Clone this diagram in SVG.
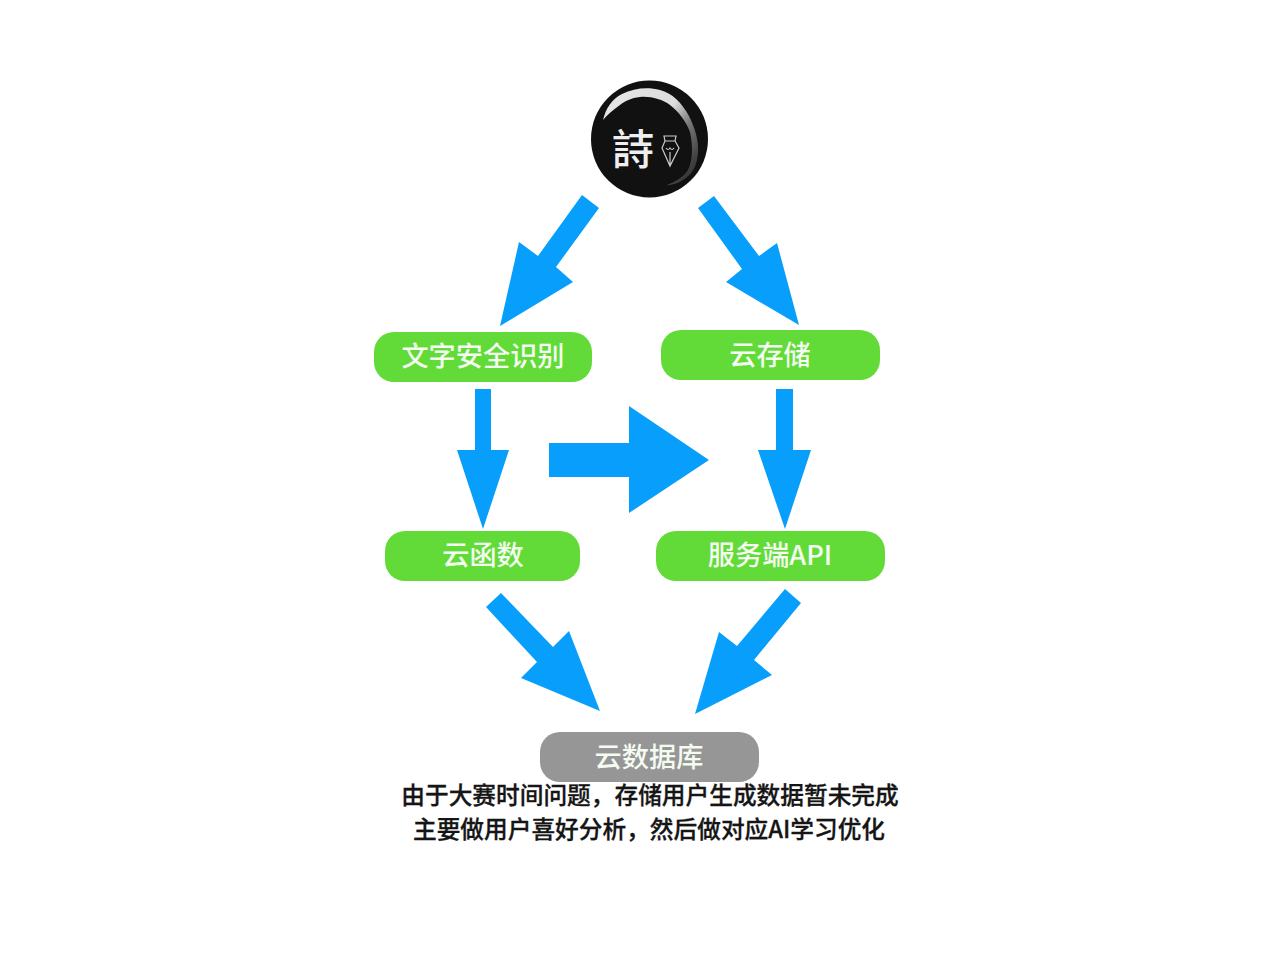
<svg xmlns="http://www.w3.org/2000/svg" width="1280" height="959" viewBox="0 0 1280 959">
<defs>
<linearGradient id="sw" gradientUnits="userSpaceOnUse" x1="610" y1="95" x2="695" y2="165"><stop offset="0" stop-color="#e6e6e6"/><stop offset=".5" stop-color="#dcdcdc"/><stop offset=".72" stop-color="#777"/><stop offset="1" stop-color="#3a3a3a"/></linearGradient>
</defs>
<style>
.g{fill:#62db38}.n{fill:#969696}.a{fill:#079ffb}
text{font-family:"Noto Sans CJK SC","Liberation Sans",sans-serif;text-anchor:middle}
.l{fill:#f4fbf0;font-size:27.2px;font-weight:500}
.c{fill:#151515;font-size:23.7px;font-weight:500;stroke:#151515;stroke-width:.3px}
</style>
<rect width="1280" height="959" fill="#fff"/>
<g id="connectors" class="a">
<polygon points="582,195 599,208 556,267 573,282 500,326 519,242 538,256"/>
<polygon points="714,196 698,208 742,269 726,282 799,325 777,243 759,256"/>
<polygon points="475,389 491,389 491,450 509,450 483,529 457,450 475,450"/>
<polygon points="776,389 793,389 793,450 811,450 785,529 758,450 776,450"/>
<polygon points="549,443 629,443 629,406 709,460 629,513 629,477 549,477"/>
<polygon points="501,593 486,607 537,662 521,678 600,711 569,631 553,647"/>
<polygon points="785,589 801,603 754,660 772,675 695,714 719,632 737,646"/>
</g>
<g id="logo">
<circle cx="649.5" cy="139" r="58.5" fill="#111"/>
<path d="M603,120C606,108 612,99 622,94C634,88 648,87 660,90C672,93 682,103 689,116C695,128 699,141 698,153C697,165 693,173 687,177C680,183 673,185 667,185C675,182 684,177 688,170C693,160 693,146 690,132C686,121 678,111 670,105C662,99 650,96 640,97C631,98 625,101 620,105C613,110 607,115 603,120Z" fill="url(#sw)"/>
<text x="633" y="165" fill="#eee" style="font-size:42px;font-family:'Noto Sans CJK TC','Noto Sans CJK SC',sans-serif;font-weight:500;stroke:none">詩</text>
<path d="M664,136H676L675,141L679,148L670,166L662,148L665,141ZM665,141H675M666,148Q668,151 670,148Q672,151 674,148M670,152V165" fill="none" stroke="#ccc" stroke-width="1.2"/>
</g>
<g id="n1"><rect class="g" x="374" y="332" width="218" height="50" rx="20"/><text class="l" x="483" y="366">文字安全识别</text></g>
<g id="n2"><rect class="g" x="661" y="330" width="219" height="50" rx="20"/><text class="l" x="770" y="365">云存储</text></g>
<g id="n3"><rect class="g" x="385" y="531" width="195" height="50" rx="20"/><text class="l" x="483" y="565">云函数</text></g>
<g id="n4"><rect class="g" x="656" y="531" width="229" height="50" rx="20"/><text class="l" x="770" y="565">服务端API</text></g>
<g id="n5"><rect class="n" x="540" y="732" width="219" height="50" rx="20"/><text class="l" x="649" y="767">云数据库</text></g>
<text class="c" x="650" y="804">由于大赛时间问题，存储用户生成数据暂未完成</text>
<text class="c" x="649" y="838">主要做用户喜好分析，然后做对应AI学习优化</text>
</svg>
